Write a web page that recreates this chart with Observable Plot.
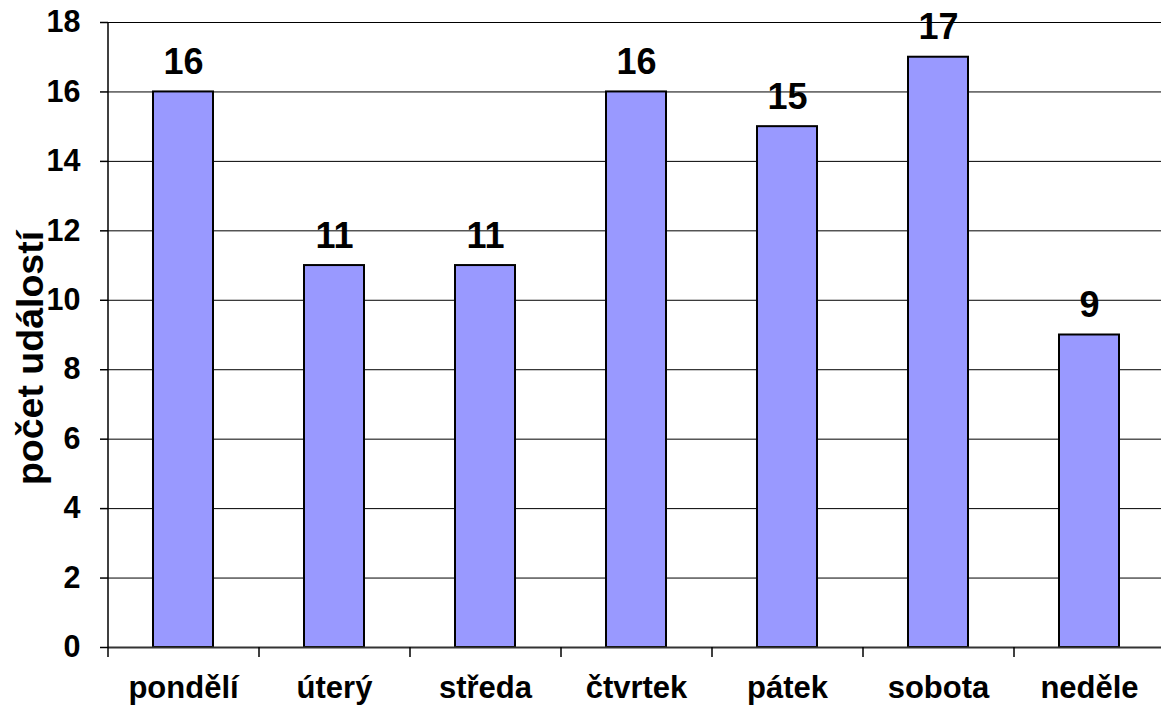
<!DOCTYPE html>
<html>
<head>
<meta charset="utf-8">
<script src="https://cdn.jsdelivr.net/npm/d3@7"></script>
<script src="https://cdn.jsdelivr.net/npm/@observablehq/plot@0.6"></script>
<style>
  html, body { margin: 0; padding: 0; background: #fff; }
  #chart svg { display: block; overflow: visible; }
</style>
</head>
<body>
<div id="chart"></div>
<script>
const days = ["pondělí", "úterý", "středa", "čtvrtek", "pátek", "sobota", "neděle"];
const counts = [16, 11, 11, 16, 15, 17, 9];
const yTicks = [0, 2, 4, 6, 8, 10, 12, 14, 16, 18];
const yLabel = "počet událostí";

const data = days.map((d, i) => ({day: d, value: counts[i]}));
const step = (1165 - 108) / days.length;

const chart = Plot.plot({
  width: 1161,
  height: 708,
  marginLeft: 108,
  marginRight: 0,
  marginTop: 22,
  marginBottom: 61,
  style: {fontFamily: "'Liberation Sans', Arial, sans-serif", color: "#000", background: "#fff"},
  x: {domain: days, range: [108, 1165], paddingInner: 0.6, paddingOuter: 0.3, label: null},
  y: {domain: [0, 18], label: null},
  marks: [
    Plot.ruleY(yTicks.filter(v => v > 0), {stroke: "#000", strokeWidth: 1}),
    Plot.barY(data, {x: "day", y: "value", fill: "#9999FF", stroke: "#000", strokeWidth: 2}),
    Plot.ruleY([0], {stroke: "#333", strokeWidth: 2}),
    Plot.ruleX([days[0]], {dx: -step / 2, y1: 0, y2: 18, stroke: "#000", strokeWidth: 1.5}),
    Plot.axisY(yTicks, {tickSize: 8, tickPadding: 20, fontSize: 30.5, fontWeight: "bold", label: null, stroke: "#000", strokeWidth: 1.5}),
    Plot.axisX({tickSize: 10, tickFormat: () => "", dx: -step / 2, label: null, stroke: "#000", strokeWidth: 1.5}),
    Plot.axisX({tickSize: 0, tickPadding: 28, fontSize: 31, fontWeight: "bold", label: null}),
    Plot.text(data, {x: "day", y: "value", text: d => String(d.value), dy: -18, lineAnchor: "bottom", fontSize: 36, fontWeight: "bold", fill: "#000"}),
    Plot.text([yLabel], {frameAnchor: "left", text: d => d, rotate: -90, dx: -66, dy: 23, lineAnchor: "bottom", textAnchor: "middle", fontSize: 37.5, fontWeight: "bold", fill: "#000"})
  ]
});
document.getElementById("chart").appendChild(chart);
</script>
</body>
</html>
